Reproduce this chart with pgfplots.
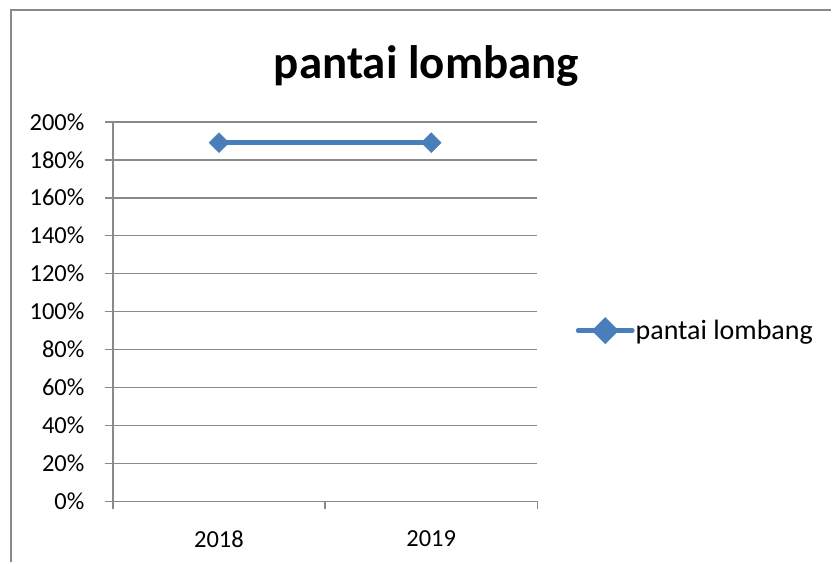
\documentclass[border=0pt]{standalone}
\usepackage{pgfplots}
\pgfplotsset{compat=1.18}
\usepackage{fontspec}
\setmainfont{Carlito}
\definecolor{serblue}{HTML}{4A7EBB}
\definecolor{axgray}{HTML}{898989}
\begin{document}
\begin{tikzpicture}[x=1pt,y=1pt]
\path (0,0) rectangle (832,563);
\draw[axgray, line width=2pt] (11,0) -- (11,553) -- (832,553);
\node[font=\fontsize{47}{56}\selectfont\bfseries] at (427,497) {pantai lombang};
\begin{axis}[
  at={(113pt,61pt)}, anchor=origin,
  width=425pt, height=380pt, scale only axis,
  xmin=0, xmax=2, ymin=0, ymax=200,
  axis lines*=left,
  axis line style={axgray, line width=1.5pt},
  ytick={0,20,...,200},
  yticklabel={\pgfmathprintnumber{\tick}\%},
  ymajorgrids, grid style={axgray, line width=1.5pt},
  tick style={axgray, line width=1.5pt},
  major tick length=8pt,
  tick align=outside,
  xtick={0,1,2}, xticklabels={},
  extra x ticks={0.5,1.5}, extra x tick labels={2018,2019},
  extra x tick style={major tick length=0pt, grid=none,
    xticklabel style={yshift=-26pt}},
  /pgf/number format/assume math mode=true,
  tick label style={font=\fontsize{24.5}{29}\selectfont},
  yticklabel style={xshift=-17pt},
  legend style={at={(1.09,0.45)}, anchor=west, draw=none, fill=none,
    font=\fontsize{28}{33}\selectfont, inner sep=0pt,
    nodes={inner sep=1pt}},
  legend cell align=left,
  legend image code/.code={
    \draw[serblue, line width=5pt, line cap=round] (0pt,0pt) -- (54pt,0pt);
    \fill[serblue] (17pt,0pt) -- (27pt,10pt) -- (37pt,0pt) -- (27pt,-10pt) -- cycle;
  },
]
\addplot[serblue, line width=5pt, mark=square*, mark size=7pt,
  mark options={rotate=45, fill=serblue, draw=serblue, line width=0.5pt}]
  coordinates {(0.5,189) (1.5,189)};
\addlegendentry{pantai lombang}
\end{axis}
\end{tikzpicture}
\end{document}
